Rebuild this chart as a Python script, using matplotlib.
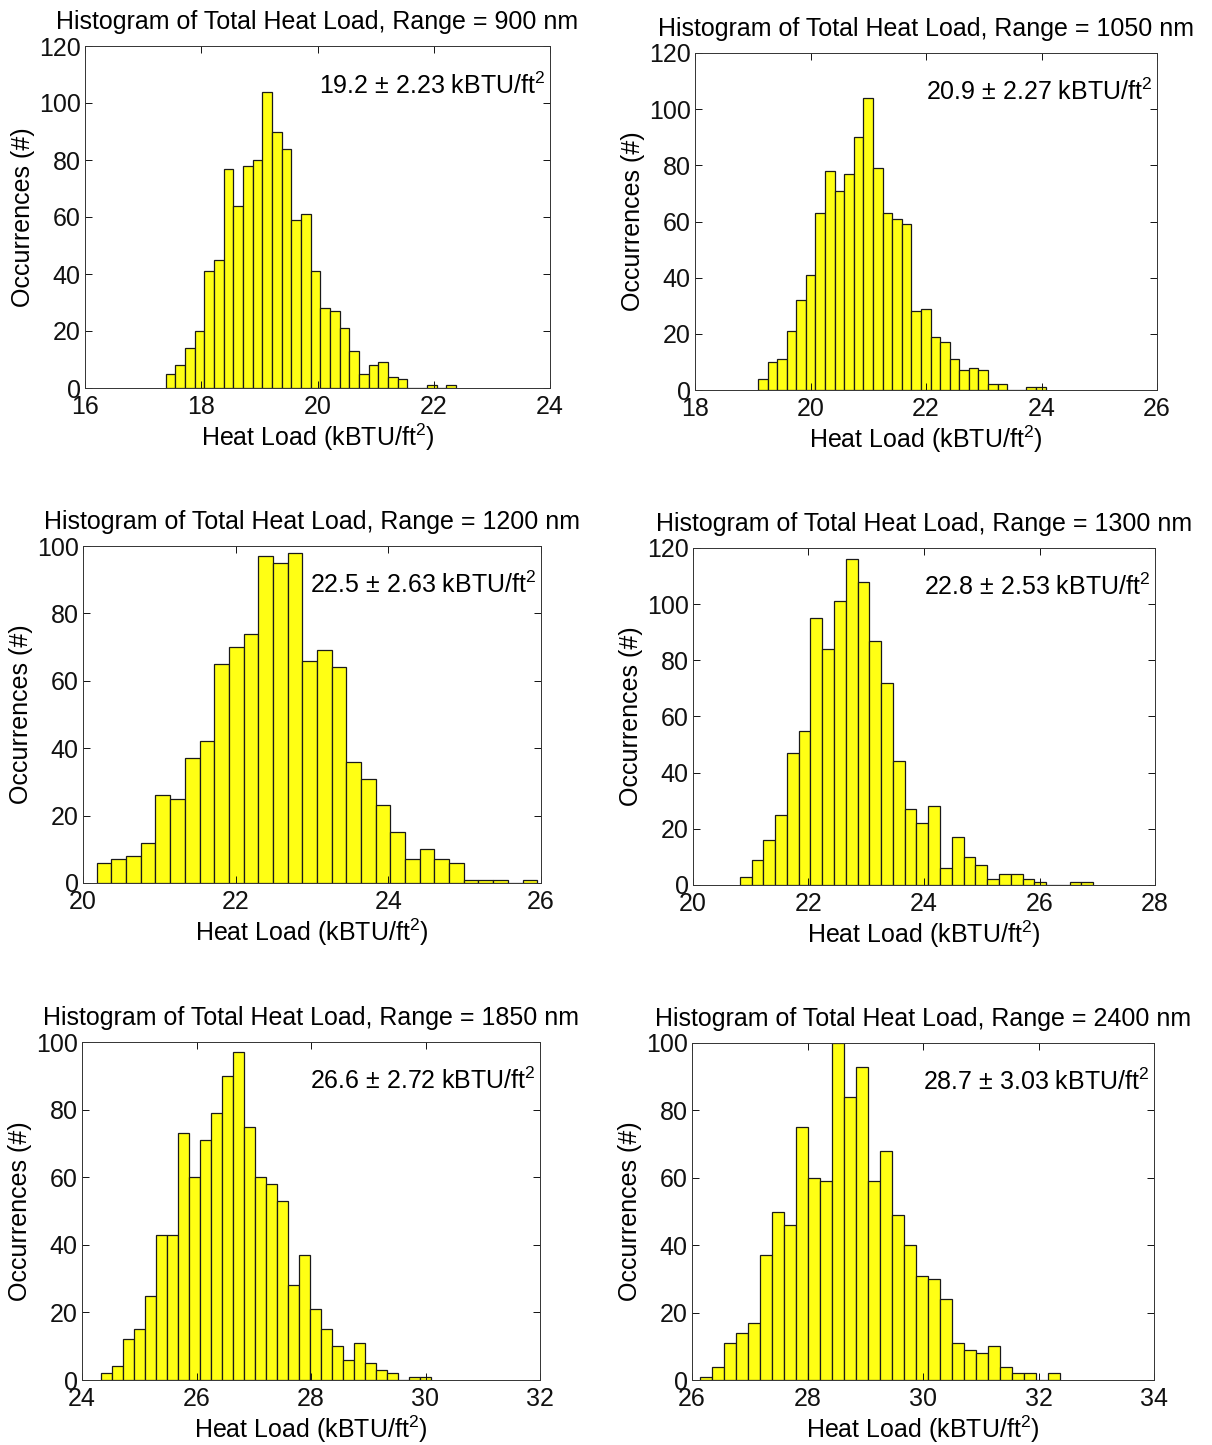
import numpy as np
import matplotlib
matplotlib.use("Agg")
import matplotlib.pyplot as plt

plt.rcParams["font.family"] = ["Liberation Sans", "DejaVu Sans"]
plt.rcParams["mathtext.fontset"] = "custom"
plt.rcParams["mathtext.rm"] = "Liberation Sans"
plt.rcParams["mathtext.it"] = "Liberation Sans:italic"
plt.rcParams["mathtext.bf"] = "Liberation Sans:bold"

# Spectral ranges of the six runs (nm)
ranges_nm = [900, 1050, 1200, 1300, 1850, 2400]

# Mean and standard deviation of total heat load (kBTU/ft^2)
means = [19.2, 20.9, 22.5, 22.8, 26.6, 28.7]
stds = [2.23, 2.27, 2.63, 2.53, 2.72, 3.03]

# Histogram bin span (first bin left edge, last bin right edge), 30 bins each
bin_lo = [17.39, 19.09, 20.18, 20.81, 24.33, 26.13]
bin_hi = [22.38, 24.07, 25.95, 26.93, 30.10, 32.37]

# Bin counts
counts_900 = [5, 8, 14, 20, 41, 45, 77, 64, 78, 80, 104, 90, 84, 59, 61,
              41, 28, 27, 21, 13, 5, 8, 9, 4, 3, 0, 0, 1, 0, 1]
counts_1050 = [4, 10, 11, 21, 32, 41, 63, 78, 71, 77, 90, 104, 79, 63, 61,
               59, 28, 29, 19, 17, 11, 7, 8, 7, 2, 2, 0, 0, 1, 1]
counts_1200 = [6, 7, 8, 12, 26, 25, 37, 42, 65, 70, 74, 97, 95, 98, 66,
               69, 64, 36, 31, 23, 15, 7, 10, 7, 6, 1, 1, 1, 0, 1]
counts_1300 = [3, 9, 16, 25, 47, 55, 95, 84, 101, 116, 108, 87, 72, 44, 27,
               22, 28, 6, 17, 10, 7, 2, 4, 4, 2, 1, 0, 0, 1, 1]
counts_1850 = [2, 4, 12, 15, 25, 43, 43, 73, 60, 71, 79, 90, 97, 75, 60,
               58, 53, 28, 37, 21, 15, 10, 6, 11, 5, 3, 2, 0, 1, 1]
counts_2400 = [1, 4, 11, 14, 17, 37, 50, 46, 75, 60, 59, 100, 84, 93, 59,
               68, 49, 40, 31, 30, 24, 11, 9, 8, 10, 4, 2, 2, 0, 2]
all_counts = [counts_900, counts_1050, counts_1200,
              counts_1300, counts_1850, counts_2400]

# Axis limits and ticks
x_limits = [(16, 24), (18, 26), (20, 26), (20, 28), (24, 32), (26, 34)]
x_steps = [2, 2, 2, 2, 2, 2]
y_max = [120, 120, 100, 120, 100, 100]
y_step = 20

W, H = 1212, 1445
fig = plt.figure(figsize=(W / 100, H / 100), dpi=100)

# Axes boxes in pixels: left, right, top, bottom
boxes = [
    (85, 550, 46, 388),
    (695, 1157, 53, 390),
    (83, 541, 546, 883),
    (693, 1155, 548, 885),
    (82, 540, 1042, 1380),
    (692, 1154, 1043, 1380),
]

fs = 18
for i, (l, r, t, b) in enumerate(boxes):
    ax = fig.add_axes([l / W, 1 - b / H, (r - l) / W, (b - t) / H])
    counts = np.array(all_counts[i])
    edges = np.linspace(bin_lo[i], bin_hi[i], len(counts) + 1)
    ax.bar(edges[:-1], counts, width=np.diff(edges), align="edge",
           color="#FFFF14", edgecolor="#1a1a1a", linewidth=0.9)
    x0, x1 = x_limits[i]
    ax.set_xlim(x0, x1)
    ax.set_ylim(0, y_max[i])
    ax.set_xticks(np.arange(x0, x1 + 0.01, x_steps[i]))
    ax.set_yticks(np.arange(0, y_max[i] + 1, y_step))
    ax.tick_params(direction="in", top=True, right=True, length=5,
                   width=0.7, labelsize=fs, colors="#111111")
    ax.tick_params(axis="x", pad=5)
    ax.tick_params(axis="y", pad=3)
    for s in ax.spines.values():
        s.set_linewidth(0.7)
        s.set_color("#333333")
    ax.set_title(f"Histogram of Total Heat Load, Range = {ranges_nm[i]} nm",
                 fontsize=fs, pad=12)
    ax.set_xlabel("Heat Load (kBTU/ft$^{2}$)", fontsize=fs, labelpad=2)
    ax.set_ylabel("Occurrences (#)", fontsize=fs, labelpad=3)
    ax.text(0.99, 0.885,
            f"{means[i]:.1f} \u00b1 {stds[i]:.2f} kBTU/ft$^{{2}}$",
            transform=ax.transAxes, ha="right", va="center", fontsize=fs)

fig.savefig("out.png", dpi=100)
